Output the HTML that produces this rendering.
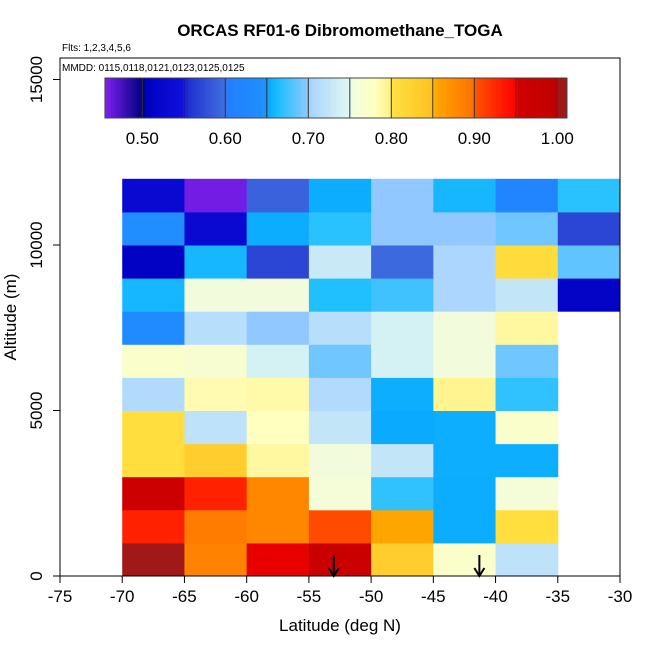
<!DOCTYPE html>
<html><head><meta charset="utf-8"><style>
body{margin:0;background:#fff;}
svg text{font-family:"Liberation Sans",sans-serif;}
</style></head><body>
<svg id="chart" width="650" height="650" xmlns="http://www.w3.org/2000/svg">
<text x="340" y="36" text-anchor="middle" font-size="17" font-weight="bold">ORCAS RF01-6 Dibromomethane_TOGA</text>
<text x="62" y="51" font-size="10">Flts: 1,2,3,4,5,6</text>
<g id="cells"></g>
<g id="arrows"></g>
<rect x="60" y="58" width="560" height="518" fill="none" stroke="#000" stroke-width="1"/>
<text x="62" y="71" font-size="10">MMDD: 0115,0118,0121,0123,0125,0125</text>
<g id="cbar"></g>
<g id="axes"></g>
<text x="340" y="631" text-anchor="middle" font-size="17">Latitude (deg N)</text>
<text transform="translate(16,317) rotate(-90)" text-anchor="middle" font-size="17">Altitude (m)</text>
</svg>
<script>
const latBins = [-70,-65,-60,-55,-50,-45,-40,-35];
const altBins = [0,1000,2000,3000,4000,5000,6000,7000,8000,9000,10000,11000];
// values[row][col], row 0 = 0-1000 m
const values = [
 [1.005,0.885,0.951,0.97,0.83,0.77,0.72,null],
 [0.93,0.89,0.88,0.905,0.855,0.654,0.805,null],
 [0.96,0.93,0.88,0.76,0.67,0.654,0.76,null],
 [0.805,0.83,0.79,0.755,0.725,0.655,0.655,null],
 [0.805,0.72,0.78,0.725,0.653,0.655,0.77,null],
 [0.71,0.785,0.787,0.71,0.655,0.795,0.67,null],
 [0.77,0.765,0.74,0.69,0.74,0.755,0.69,null],
 [0.635,0.715,0.70,0.715,0.74,0.755,0.79,null],
 [0.66,0.755,0.755,0.665,0.675,0.705,0.725,0.515],
 [0.51,0.66,0.57,0.73,0.595,0.705,0.81,0.685],
 [0.645,0.53,0.654,0.668,0.70,0.70,0.69,0.57],
 [0.53,0.46,0.59,0.654,0.70,0.66,0.62,0.668]
];
const cbarTicks = [0.5,0.6,0.7,0.8,0.9,1.0];
const cbarTickLabels = ["0.50","0.60","0.70","0.80","0.90","1.00"];
const xTicks = [-75,-70,-65,-60,-55,-50,-45,-40,-35,-30];
const yTicks = [0,5000,10000,15000];
const arrowLats = [-53,-41.3];

const stops=[[0.455,'#8020f0'],[0.50,'#000080'],[0.505,'#0000c0'],[0.55,'#1010e0'],[0.555,'#2030d0'],[0.60,'#4070e0'],[0.605,'#2080ff'],[0.65,'#2090ff'],[0.652,'#08a8ff'],[0.665,'#20c0ff'],[0.70,'#90c8ff'],[0.702,'#a8d4ff'],[0.75,'#e0f8f0'],[0.752,'#f0fce0'],[0.78,'#ffffc0'],[0.80,'#fff080'],[0.802,'#ffe040'],[0.85,'#ffc020'],[0.852,'#ffa800'],[0.90,'#ff7000'],[0.902,'#ff5000'],[0.95,'#ff0000'],[0.952,'#d00000'],[1.0,'#c00000'],[1.002,'#a01818'],[1.02,'#a01818']];
function hex(c){return [1,3,5].map(i=>parseInt(c.substr(i,2),16));}
function cmap(v){
 if(v<=stops[0][0])return stops[0][1];
 for(let i=1;i<stops.length;i++){if(v<=stops[i][0]){const a=hex(stops[i-1][1]),b=hex(stops[i][1]);const t=(v-stops[i-1][0])/(stops[i][0]-stops[i-1][0]);return 'rgb('+a.map((x,k)=>Math.round(x+(b[k]-x)*t)).join(',')+')';}}
 return stops[stops.length-1][1];
}
const NS='http://www.w3.org/2000/svg';
const xS=lat=>60+(lat+75)*560/45;
const yS=alt=>576-alt*(165.5/5000);
const cS=v=>142.3+(v-0.5)*830;
function mk(tag,attrs,parent){const e=document.createElementNS(NS,tag);for(const k in attrs)e.setAttribute(k,attrs[k]);parent.appendChild(e);return e;}
const cells=document.getElementById('cells');
values.forEach((row,r)=>row.forEach((v,c)=>{
 if(v===null)return;
 const x0=xS(latBins[c]),x1=xS(latBins[c]+5),y0=yS(altBins[r]+1000),y1=yS(altBins[r]);
 const e=mk('rect',{x:x0,y:y0,width:x1-x0+0.5,height:y1-y0+0.5,fill:cmap(v)},cells);
 
 
}));
const arrows=document.getElementById('arrows');
arrowLats.forEach(l=>{
 const x=xS(l);
 const g=mk('g',{},arrows);
 
 
 mk('line',{x1:x,y1:555,x2:x,y2:576,stroke:'#000','stroke-width':2},g);
 mk('polyline',{points:(x-5)+',568 '+x+',576 '+(x+5)+',568',fill:'none',stroke:'#000','stroke-width':2},g);
});
const cbar=document.getElementById('cbar');
const N=150;
for(let i=0;i<N;i++){
 const v0=0.455+(1.0115-0.455)*i/N,v1=0.455+(1.0115-0.455)*(i+1)/N;
 mk('rect',{x:cS(v0),y:78,width:cS(v1)-cS(v0)+0.6,height:40,fill:cmap((v0+v1)/2)},cbar);
}
for(let v=0.5;v<=1.001;v+=0.05){const x=cS(v);mk('line',{x1:x,y1:78,x2:x,y2:118,stroke:'#333','stroke-width':1},cbar);}
mk('rect',{x:cS(0.455),y:78,width:cS(1.0115)-cS(0.455),height:40,fill:'none',stroke:'#444','stroke-width':1},cbar);
cbarTicks.forEach((v,i)=>{
 const t=mk('text',{x:cS(v),y:144,'text-anchor':'middle','font-size':17},cbar);
 t.textContent=cbarTickLabels[i];
 
 
});
const axes=document.getElementById('axes');
mk('line',{x1:60,y1:576,x2:620,y2:576,stroke:'#000'},axes);
xTicks.forEach(v=>{
 const x=xS(v);
 mk('line',{x1:x,y1:576,x2:x,y2:583,stroke:'#000'},axes);
 const t=mk('text',{x:x,y:602,'text-anchor':'middle','font-size':17},axes);
 t.textContent=v;
 
 
});
yTicks.forEach(v=>{
 const y=yS(v);
 mk('line',{x1:53,y1:y,x2:60,y2:y,stroke:'#000'},axes);
 const t=mk('text',{transform:'translate(42,'+y+') rotate(-90)','text-anchor':'middle','font-size':17},axes);
 t.textContent=v;
 
 
});
</script>
</body></html>
